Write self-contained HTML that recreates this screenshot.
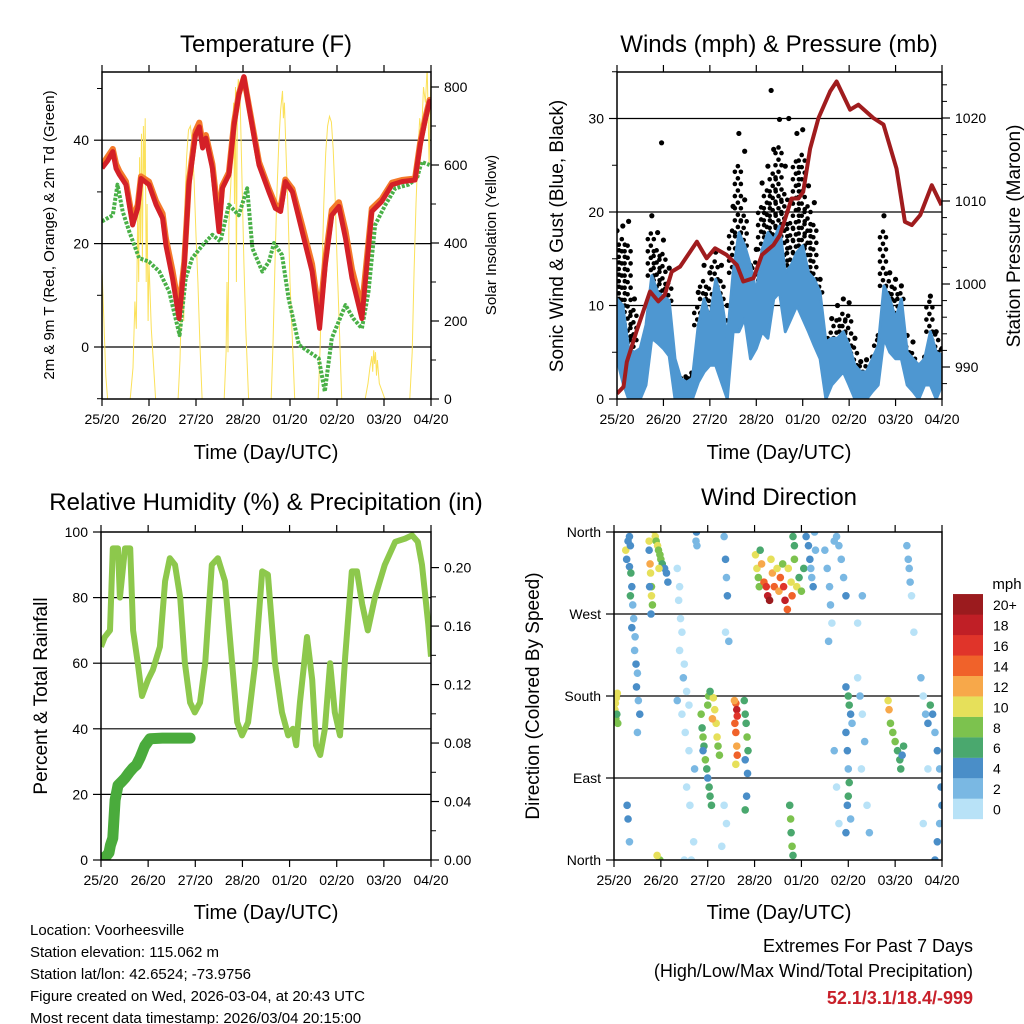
<!DOCTYPE html>
<html><head><meta charset="utf-8"><style>
html,body{margin:0;padding:0;background:#fff;}
svg{display:block;font-family:"Liberation Sans",sans-serif;}
</style></head><body>
<svg id="c" width="1024" height="1024" viewBox="0 0 1024 1024">
<rect width="1024" height="1024" fill="#fff"/>
<text x="266" y="52" font-size="24" text-anchor="middle">Temperature (F)</text>
<text x="779" y="52" font-size="24" text-anchor="middle">Winds (mph) &amp; Pressure (mb)</text>
<text x="266" y="510" font-size="24" text-anchor="middle">Relative Humidity (%) &amp; Precipitation (in)</text>
<text x="779" y="505" font-size="24" text-anchor="middle">Wind Direction</text>
<text x="266" y="459" font-size="20" text-anchor="middle">Time (Day/UTC)</text>
<text x="779" y="459" font-size="20" text-anchor="middle">Time (Day/UTC)</text>
<text x="266" y="919" font-size="20" text-anchor="middle">Time (Day/UTC)</text>
<text x="779" y="919" font-size="20" text-anchor="middle">Time (Day/UTC)</text>
<text transform="translate(54,235) rotate(-90)" font-size="15" text-anchor="middle">2m &amp; 9m T (Red, Orange) &amp; 2m Td (Green)</text>
<text transform="translate(496,235) rotate(-90)" font-size="15" text-anchor="middle">Solar Insolation (Yellow)</text>
<text transform="translate(563,236) rotate(-90)" font-size="19" text-anchor="middle">Sonic Wind &amp; Gust (Blue, Black)</text>
<text transform="translate(1020,236) rotate(-90)" font-size="19" text-anchor="middle">Station Pressure (Maroon)</text>
<text transform="translate(47,696) rotate(-90)" font-size="19" text-anchor="middle">Percent &amp; Total Rainfall</text>
<text transform="translate(539,696) rotate(-90)" font-size="19" text-anchor="middle">Direction (Colored By Speed)</text>
<g font-size="15">
<text x="30" y="935">Location: Voorheesville</text>
<text x="30" y="957">Station elevation: 115.062 m</text>
<text x="30" y="979">Station lat/lon: 42.6524; -73.9756</text>
<text x="30" y="1001">Figure created on Wed, 2026-03-04, at 20:43 UTC</text>
<text x="30" y="1023">Most recent data timestamp: 2026/03/04 20:15:00</text>
</g>
<text x="973" y="952" font-size="18" text-anchor="end">Extremes For Past 7 Days</text>
<text x="973" y="977" font-size="18" text-anchor="end">(High/Low/Max Wind/Total Precipitation)</text>
<text x="973" y="1004" font-size="18" font-weight="bold" fill="#c8202a" text-anchor="end">52.1/3.1/18.4/-999</text>
<text x="1007" y="589" font-size="15" text-anchor="middle">mph</text>
<defs>
<clipPath id="cp1"><rect x="102" y="72" width="329" height="327"/></clipPath>
<clipPath id="cp2"><rect x="617" y="72" width="325" height="327"/></clipPath>
<clipPath id="cp3"><rect x="101" y="532" width="330" height="328"/></clipPath>
<clipPath id="cp4"><rect x="614" y="532" width="328" height="328"/></clipPath>
</defs>
</svg>
<script>
// ---- shared axis data ----
const dayTicks=[0,1,2,3,4,5,6,7];
const dayLabels=["25/20","26/20","27/20","28/20","01/20","02/20","03/20","04/20"];
// ---- temperature panel ----
const tempTimes=[0,0.12,0.23,0.3,0.37,0.51,0.65,0.76,0.83,1.0,1.15,1.29,1.36,1.5,1.64,1.75,1.85,1.99,2.07,2.14,2.21,2.35,2.49,2.56,2.7,2.81,2.91,3.02,3.13,3.34,3.55,3.69,3.8,3.9,4.05,4.26,4.47,4.63,4.75,4.89,5.04,5.18,5.32,5.53,5.74,5.95,6.17,6.38,6.66,6.77,6.87,6.97,7.0];
const temp2m=[34.6,36,37.8,34.5,33.3,31.4,23.6,26.8,32.6,31.4,27.5,24.9,19.7,13.3,5.5,15.9,31.4,41,42.6,38.5,40.4,34.6,22.3,30.7,33.3,43,48.8,52.3,46.2,35.2,30,26.8,26.2,32,30,22.3,14.6,3.6,15.9,25.5,27.2,21,13.3,5.5,26.2,28.1,31.4,32,32.3,39.1,43.6,47.5,47];
const temp9m=[35.2,36.8,38.3,35.4,34,32,24.5,27.5,33,32,28.2,25.8,21,14.8,7.2,16.5,32,41.8,43.4,39.4,41,35.4,24,31.2,33.8,43.5,49,52.1,46.5,35.8,30.6,27.5,27,32.4,30.6,23.5,16,5.5,17,26.5,28,22.5,15,7.5,26.8,28.6,31.8,32.3,32.6,39.6,44,47.8,47.4];
const dewTimes=[0,0.23,0.33,0.44,0.58,0.79,1.0,1.22,1.43,1.65,1.78,1.92,2.14,2.35,2.52,2.7,2.91,3.09,3.2,3.41,3.55,3.66,3.83,3.97,4.19,4.4,4.61,4.74,4.89,5.18,5.35,5.53,5.67,5.81,6.03,6.24,6.52,6.7,6.8,6.97];
const dewpoint=[24.3,25.5,31.4,26.2,22.3,17.2,16.5,14.6,10.7,2.3,13.3,17.2,19.7,21.7,20.4,27.5,25.5,30.7,19.1,14.6,16.5,20.1,17.8,9.4,0.4,-0.9,-2.2,-8.6,1.7,8.1,5.5,3.6,10.7,23.6,27.5,30.7,31.4,32.6,35.8,35.2];
const solarTimes=[0,0.04,0.08,0.12,0.6,0.66,0.7,0.73,0.76,0.78,0.8,0.82,0.84,0.86,0.88,0.9,0.92,0.94,0.96,0.98,1.0,1.05,1.1,1.14,1.62,1.66,1.7,1.74,1.76,1.8,1.84,1.88,1.92,1.96,2.0,2.04,2.08,2.13,2.6,2.64,2.66,2.68,2.7,2.74,2.78,2.8,2.82,2.84,2.86,2.88,2.9,2.94,2.98,3.02,3.06,3.12,3.6,3.64,3.68,3.72,3.76,3.8,3.84,3.86,3.88,3.92,3.96,4.0,4.05,4.1,4.6,4.64,4.68,4.72,4.76,4.8,4.84,4.88,4.92,4.96,5.0,5.05,5.1,5.6,5.66,5.7,5.74,5.76,5.78,5.8,5.82,5.84,5.86,5.9,5.96,6.02,6.55,6.6,6.64,6.68,6.72,6.76,6.8,6.84,6.88,6.92,6.96,7.0];
const solarValues=[330,200,60,0,0,80,250,180,480,300,620,400,680,350,700,560,720,300,500,200,350,180,80,0,0,100,300,200,480,620,690,700,660,560,420,300,150,0,0,120,300,120,450,550,680,760,500,800,300,780,820,760,550,350,180,0,0,150,350,520,650,740,790,720,760,620,480,300,150,0,0,130,320,500,630,700,725,710,640,520,360,180,0,0,40,80,110,70,125,90,120,60,100,40,20,0,0,120,330,500,620,720,680,800,760,850,600,830];
const tempTicks=[0,20,40];
const solarTicks=[0,200,400,600,800];
// ---- wind panel ----
const pressTimes=[0,0.14,0.21,0.42,0.71,0.89,1.03,1.18,1.36,1.72,1.93,2.11,2.36,2.58,2.72,2.94,3.12,3.37,3.51,3.76,3.91,4.01,4.16,4.34,4.59,4.73,5.02,5.2,5.52,5.74,6.02,6.2,6.35,6.53,6.78,6.99];
const pressure=[986.8,987.6,990.6,994.3,999.1,997.9,998.7,1001.5,1002.1,1005.1,1003.1,1004.3,1003.5,1002.3,1000.3,1000.7,1003.5,1004.7,1005.9,1010.3,1010.3,1011.1,1016.3,1020,1023.2,1024.4,1021,1021.6,1020,1019.2,1013.9,1007.5,1007.1,1008.3,1011.9,1009.5];
const windTimes=[0,0.125,0.25,0.375,0.5,0.625,0.75,0.875,1,1.125,1.25,1.375,1.5,1.625,1.75,1.875,2,2.125,2.25,2.375,2.5,2.625,2.75,2.875,3,3.125,3.25,3.375,3.5,3.625,3.75,3.875,4,4.125,4.25,4.375,4.5,4.625,4.75,4.875,5,5.125,5.25,5.375,5.5,5.625,5.75,5.875,6,6.125,6.25,6.375,6.5,6.625,6.75,6.875,7];
const windHigh=[10.7,10,5.4,5,5.4,7.9,13.2,11.4,11,10.5,4.3,2.2,1.8,2.2,7.9,10.7,8.6,12.8,10.7,6.5,13.5,17.8,16.4,14.3,11.4,16,17.8,17,18.5,13.5,14.3,15.7,16.4,13.5,12.8,11.4,6.1,6.5,6.5,7.2,5.7,3.6,2.9,2.9,4.3,5.7,12.1,10.7,8.6,10.7,5,4.3,3.6,4.3,7.2,5,4.7];
const windLow=[4.3,1.8,0,0,0,1.5,6.5,6,5.4,4.6,0,0,0,0,1.8,2.9,3.6,3.6,1.8,0,7.2,7.2,8.6,4.3,5.4,7.2,6.5,10.7,11.4,7.2,8.6,10,8.6,7.2,5.7,4.3,0,1.5,2.2,2.9,1.5,0,0,0,0.8,1.5,6.5,5,4.3,4.3,1.5,0.8,0,1.5,1.5,0,1.5];
const gust=[18,18.5,19,10.7,5,6,19.6,17.8,17,14,3.6,2.2,2.2,2.5,11.4,14.3,13.5,15.7,14.3,10,20.6,28.4,21.3,14.3,16,23.1,24.9,26.7,29.9,24.9,21.3,28.4,28.8,22.8,21,12.8,5,8.6,10,10.7,10.3,6.5,4,4.2,4.5,6.8,19.6,13.5,12.8,12.1,6.8,6.1,3.6,4.5,11,7.2,5.4];
const gustOutlierTimes=[0.96,3.32,3.7,2.75];
const gustOutliers=[27.4,33,30,26.5];
const windTicks=[0,10,20,30];
const pressTicks=[990,1000,1010,1020];
// ---- humidity panel ----
const rhTimes=[0,0.08,0.19,0.25,0.36,0.4,0.51,0.62,0.68,0.78,0.87,1.0,1.1,1.25,1.36,1.46,1.57,1.68,1.78,1.89,1.99,2.1,2.21,2.35,2.48,2.63,2.78,2.89,2.99,3.12,3.27,3.42,3.54,3.69,3.84,3.97,4.07,4.14,4.22,4.37,4.48,4.56,4.65,4.75,4.86,4.96,5.07,5.18,5.32,5.43,5.54,5.66,5.81,6.02,6.24,6.45,6.6,6.72,6.81,6.94,7.0];
const rhValues=[65,68,70,95,95,80,95,95,70,60,50,55,58,65,85,92,90,80,60,48,45,48,60,90,92,85,60,42,38,42,60,88,87,60,45,38,40,35,48,68,55,35,32,40,60,45,38,62,88,88,78,70,80,90,97,98,99,97,90,72,62];
const precipTimes=[0,0.04,0.08,0.12,0.17,0.2,0.25,0.3,0.36,0.45,0.51,0.6,0.68,0.75,0.83,0.93,1.04,1.3,1.6,1.89];
const precipValues=[0,0.001,0.002,0.003,0.005,0.01,0.015,0.041,0.051,0.054,0.056,0.06,0.063,0.065,0.07,0.078,0.083,0.0834,0.0834,0.0834];
const rhTicks=[0,20,40,60,80,100];
const precipTicks=[0,0.04,0.08,0.12,0.16,0.2];
const precipLabels=["0.00","0.04","0.08","0.12","0.16","0.20"];
// ---- wind direction panel ----
const dirTimes=[0.02,0.03,0.05,0.07,0.04,0.06,0.08,0.25,0.27,0.3,0.33,0.35,0.33,0.36,0.38,0.35,0.4,0.42,0.38,0.45,0.44,0.47,0.5,0.48,0.52,0.55,0.5,0.28,0.3,0.33,0.75,0.75,0.77,0.78,0.8,0.8,0.82,0.76,0.79,0.85,0.88,0.9,0.93,0.95,0.98,1.0,1.03,1.08,1.12,1.15,0.96,0.98,0.92,1.35,1.4,1.38,1.42,1.45,1.4,1.5,1.48,1.55,1.6,1.35,1.45,1.52,1.6,1.55,1.62,1.5,1.65,1.7,1.72,1.75,1.76,1.77,1.86,1.88,1.9,1.92,1.95,1.98,2.0,2.03,2.05,2.08,1.9,2.0,2.02,2.12,2.15,2.18,2.2,2.22,2.25,2.1,2.05,2.35,2.38,2.4,2.42,2.38,2.45,2.35,2.4,2.3,2.6,2.62,2.63,2.58,2.6,2.62,2.63,2.6,2.57,2.78,2.8,2.82,2.84,2.86,2.8,2.85,2.83,2.8,3.02,3.05,3.08,3.1,3.12,3.15,3.2,3.25,3.28,3.32,3.35,3.38,3.42,3.48,3.52,3.55,3.6,3.62,3.65,3.7,3.72,3.78,3.8,3.85,3.9,3.95,4.0,4.05,3.82,3.85,4.1,4.15,4.18,4.2,4.22,4.25,4.28,4.3,3.75,3.77,3.78,3.8,3.82,4.5,4.55,4.6,4.62,4.65,4.58,4.7,4.75,4.8,4.85,4.9,4.95,4.7,4.75,4.8,4.95,5.0,5.02,5.05,5.08,4.95,4.98,5.0,5.02,5.0,4.98,5.05,4.95,5.2,5.25,5.3,5.35,5.28,5.4,5.45,5.2,5.3,5.85,5.87,5.9,5.95,6.0,6.05,6.1,6.12,6.15,6.18,6.25,6.28,6.3,6.32,6.35,6.4,6.55,6.6,6.65,6.7,6.75,6.8,6.85,6.9,6.95,6.98,7.0,6.95,6.9,6.85,6.7,6.6];
const dirValues=[165,172,178,183,155,160,150,340,330,350,355,345,322,315,300,290,280,265,255,245,230,215,205,190,175,160,140,60,45,20,350,340,325,315,300,290,280,300,270,362,355,350,345,340,335,330,325,320,315,305,320,0,5,320,300,285,265,250,230,215,200,185,170,175,160,140,120,80,60,0,0,20,100,350,360,345,160,145,135,125,110,100,90,80,70,60,120,170,180,178,165,150,135,125,115,155,185,355,330,310,290,250,240,60,40,15,172,165,158,150,140,125,115,105,175,175,160,150,135,120,110,95,70,55,335,320,310,300,340,325,305,300,290,285,330,315,300,320,295,310,325,300,285,275,320,305,290,330,300,310,295,320,355,345,355,345,330,320,310,300,360,340,60,45,30,15,5,340,320,300,280,260,240,350,355,345,330,310,290,120,80,40,190,180,170,160,150,140,120,100,85,70,60,45,30,200,180,160,130,100,60,30,260,290,175,165,150,140,130,120,110,100,115,125,345,330,320,305,290,250,200,180,160,150,170,160,140,120,100,80,60,40,20,0,100,40];
const dirSpeeds=[10,10,10,10,8,6,8,10,4,4,4,4,4,6,4,6,2,2,4,2,2,4,2,4,2,4,2,4,4,2,10,4,12,10,8,10,8,4,4,10,10,8,10,8,8,8,6,4,4,4,10,8,10,0,0,0,0,0,0,0,2,0,0,2,0,0,0,0,0,0,0,0,2,2,4,2,8,6,8,6,8,6,4,6,6,6,4,8,8,10,10,10,10,8,8,12,6,2,4,2,4,0,2,0,0,0,14,18,16,14,14,12,14,10,12,6,6,6,8,6,4,4,4,6,10,10,8,8,6,12,14,16,18,20,10,12,14,10,12,14,8,16,18,14,10,10,14,8,10,6,8,6,6,6,4,4,4,2,2,4,2,2,6,8,6,8,6,2,2,2,2,0,2,2,2,2,2,2,4,2,0,0,4,6,6,4,2,4,4,2,6,6,4,2,4,0,2,0,2,0,0,2,0,2,10,12,8,8,8,6,6,6,4,6,2,2,2,2,0,0,2,0,2,4,6,4,2,4,2,4,4,2,4,4,0,0];
const dirTicks=[0,90,180,270,360];
const dirLabels=["North","East","South","West","North"];
const speedBins=[0,2,4,6,8,10,12,14,16,18,20];
const speedLabels=["0","2","4","6","8","10","12","14","16","18","20+"];
const speedColors=["#b8e2f7","#7ab8e3","#4a8ec8","#4aa86e","#7cc24e","#e6e05a","#f7a84a","#f0622a","#e0342a","#c01f26","#9b1b1e"];

const NS='http://www.w3.org/2000/svg';
const svg=document.getElementById('c');
function mk(tag,attrs,parent){const e=document.createElementNS(NS,tag);for(const k in attrs)e.setAttribute(k,attrs[k]);(parent||svg).appendChild(e);return e;}
function pathD(xs,ys){let d='';for(let i=0;i<xs.length;i++)d+=(i?'L':'M')+xs[i].toFixed(1)+','+ys[i].toFixed(1);return d;}
function xScale(x0,x1){return d=>x0+(x1-x0)*d/7;}

const P1={x0:102,x1:431,y0:72,y1:399,X:xScale(102,431),L:v=>347-v*5.17,R:v=>399-v*0.39};
const P2={x0:617,x1:942,y0:72,y1:399,X:xScale(617,942),L:v=>399-v*9.35,R:v=>201-(v-1010)*8.3};
const P3={x0:101,x1:431,y0:532,y1:860,X:xScale(101,431),L:v=>860-v*3.28,R:v=>860-v*1462};
const P4={x0:614,x1:942,y0:532,y1:860,X:xScale(614,942),L:v=>860-v*0.9111};

function gridLines(P,ticks,name){
  for(const t of ticks){const y=P.L(t);
    const g=mk('line',{x1:P.x0,x2:P.x1,y1:y,y2:y,stroke:'#000','stroke-width':1.2});
    
    }
}
function frame(P,name){
  const r=mk('rect',{x:P.x0,y:P.y0,width:P.x1-P.x0,height:P.y1-P.y0,fill:'none',stroke:'#000','stroke-width':1.5});
  
  
  for(let i=0;i<dayTicks.length;i++){const x=P.X(dayTicks[i]);
    const a=mk('line',{x1:x,x2:x,y1:P.y1,y2:P.y1+7,stroke:'#000','stroke-width':1.2});
    
    
    const b=mk('line',{x1:x,x2:x,y1:P.y0,y2:P.y0-7,stroke:'#000','stroke-width':1.2});
    
    
    const t=mk('text',{x:x,y:P.y1+25,'font-size':14,'text-anchor':'middle'});
    t.textContent=dayLabels[i];
    
    }
}
function leftAxis(P,ticks,labels,name,minor){
  for(let i=0;i<ticks.length;i++){const y=P.L(ticks[i]);
    const a=mk('line',{x1:P.x0-8,x2:P.x0,y1:y,y2:y,stroke:'#000','stroke-width':1.2});
    
    
    const t=mk('text',{x:P.x0-13,y:y+5,'font-size':14,'text-anchor':'end'});
    t.textContent=labels[i];
    
    }
  for(const m of (minor||[])){const y=P.L(m);
    const a=mk('line',{x1:P.x0-5,x2:P.x0,y1:y,y2:y,stroke:'#000','stroke-width':1});
    
    }
}
function rightAxis(P,ticks,labels,name,minor){
  for(let i=0;i<ticks.length;i++){const y=P.R(ticks[i]);
    const a=mk('line',{x1:P.x1,x2:P.x1+8,y1:y,y2:y,stroke:'#000','stroke-width':1.2});
    
    
    const t=mk('text',{x:P.x1+13,y:y+5,'font-size':14,'text-anchor':'start'});
    t.textContent=labels[i];
    
    }
  for(const m of (minor||[])){const y=P.R(m);
    const a=mk('line',{x1:P.x1,x2:P.x1+5,y1:y,y2:y,stroke:'#000','stroke-width':1});
    
    }
}

// ===== Panel 1 =====
gridLines(P1,tempTicks,'temp');
const g1=mk('g',{'clip-path':'url(#cp1)'});


const solar=mk('path',{d:pathD(solarTimes.map(P1.X),solarValues.map(P1.R)),fill:'none',stroke:'#fbe15a','stroke-width':1},g1);


const dew=mk('path',{d:pathD(dewTimes.map(P1.X),dewpoint.map(P1.L)),fill:'none',stroke:'#49b047','stroke-width':4,'stroke-dasharray':'3 1.5','stroke-linejoin':'round'},g1);


const t9=mk('path',{d:pathD(tempTimes.map(P1.X),temp9m.map(P1.L)),fill:'none',stroke:'#f47a2a','stroke-width':6,'stroke-linejoin':'round'},g1);


const t2=mk('path',{d:pathD(tempTimes.map(P1.X),temp2m.map(P1.L)),fill:'none',stroke:'#d42027','stroke-width':5,'stroke-linejoin':'round'},g1);


frame(P1,'temp');
leftAxis(P1,tempTicks,tempTicks.map(String),'temp',[-10,10,30,50]);
rightAxis(P1,solarTicks,solarTicks.map(String),'solar',[100,300,500,700]);

// ===== Panel 2 =====
gridLines(P2,windTicks.slice(1),'wind');
const g2=mk('g',{'clip-path':'url(#cp2)'});


for(let i=0;i<windTimes.length;i++){
  const x=P2.X(windTimes[i]);
  for(const dx of [-4,-1,2]){
    for(let v=windHigh[i];v<=gust[i]*0.9;v+=1.3){
      const c=mk('circle',{cx:x+dx,cy:P2.L(v+(dx===-1?0.6:0)),r:2.3,fill:'#000'},g2);
      
      }
  }
  const top=mk('circle',{cx:x,cy:P2.L(gust[i]),r:2.6,fill:'#000'},g2);
  
  
}
for(let i=0;i<gustOutliers.length;i++){
  const c=mk('circle',{cx:P2.X(gustOutlierTimes[i]),cy:P2.L(gustOutliers[i]),r:2.6,fill:'#000'},g2);
  
  }
const band=mk('path',{d:pathD(windTimes.map(P2.X),windHigh.map(P2.L))+'L'+pathD(windTimes.map(P2.X).reverse(),windLow.slice().reverse().map(P2.L)).slice(1)+'Z',fill:'#4e97d1',stroke:'#4e97d1','stroke-width':3,'stroke-linejoin':'round'},g2);


const pr=mk('path',{d:pathD(pressTimes.map(P2.X),pressure.map(P2.R)),fill:'none',stroke:'#a01c1e','stroke-width':4,'stroke-linejoin':'round'},g2);


frame(P2,'wind');
leftAxis(P2,windTicks,windTicks.map(String),'wind',[5,15,25,35]);
rightAxis(P2,pressTicks,pressTicks.map(String),'pressure',[988,992,994,996,998,1002,1004,1006,1008,1012,1014,1016,1018,1022,1024]);

// ===== Panel 3 =====
gridLines(P3,[20,40,60,80],'rh');
const g3=mk('g',{'clip-path':'url(#cp3)'});


const rh=mk('path',{d:pathD(rhTimes.map(P3.X),rhValues.map(P3.L)),fill:'none',stroke:'#8dc84c','stroke-width':6,'stroke-linejoin':'round'},g3);


const pc=mk('path',{d:pathD(precipTimes.map(P3.X),precipValues.map(P3.R)),fill:'none',stroke:'#4aab3c','stroke-width':11,'stroke-linecap':'round','stroke-linejoin':'round'},g3);


frame(P3,'rh');
leftAxis(P3,rhTicks,rhTicks.map(String),'rh',[]);
rightAxis(P3,precipTicks,precipLabels,'precip',[0.02,0.06,0.1,0.14,0.18]);

// ===== Panel 4 =====
gridLines(P4,[90,180,270],'dir');
const g4=mk('g',{'clip-path':'url(#cp4)'});


function binColor(s){let k=0;for(let i=0;i<speedBins.length;i++)if(s>=speedBins[i])k=i;return speedColors[k];}
for(let i=0;i<dirTimes.length;i++){
  const c=mk('circle',{cx:P4.X(dirTimes[i]),cy:P4.L(dirValues[i]),r:3.8,fill:binColor(dirSpeeds[i])},g4);
  
  }
frame(P4,'dir');
leftAxis(P4,dirTicks,dirLabels,'dir',[]);
// colorbar
for(let i=0;i<speedColors.length;i++){
  const y=819-(i+1)*20.45;
  const r=mk('rect',{x:953,y:y,width:30,height:20.6,fill:speedColors[i]});
  
  
  const t=mk('text',{x:993,y:y+16,'font-size':14});
  t.textContent=speedLabels[i];
  
  }
</script>
</body></html>
